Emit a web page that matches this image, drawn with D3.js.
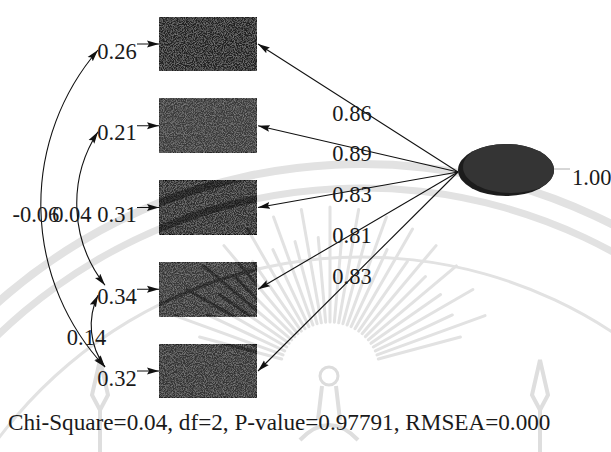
<!DOCTYPE html>
<html>
<head>
<meta charset="utf-8">
<script src="https://cdn.jsdelivr.net/npm/d3@7"></script>
<style>
  html, body { margin: 0; padding: 0; background: #fff; }
  svg { display: block; }
  text { font-family: "Liberation Serif", "Times New Roman", serif; fill: #1a1a1a; }
</style>
</head>
<body>
<div id="diagram"></div>
<script>
// CFA path diagram (one factor, five indicators)

const indicatorIds = ["x1", "x2", "x3", "x4", "x5"]
const loadings = [0.86, 0.89, 0.83, 0.81, 0.83]
const errorVariances = [0.26, 0.21, 0.31, 0.34, 0.32]
const covFrom = [0, 1, 3]
const covTo = [4, 3, 4]
const covValues = [-0.06, 0.04, 0.14]
const latentVariance = 1.0
const fitLabels = ["Chi-Square", "df", "P-value", "RMSEA"]
const fitValues = ["0.04", "2", "0.97791", "0.000"]

const width = 611
const height = 452

// layout
const box = { x: 159, w: 98, h: 54 }
const latent = { cx: 506, cy: 170, rx: 48, ry: 26 }
const boxFill = ["#242424", "#3a3a3a", "#2f2f2f", "#393939", "#343434"]
const labelSize = 22.5

const fmt = (v) => v.toFixed(2)

const y = d3.scalePoint().domain(indicatorIds).range([44, 371])

const svg = d3
  .select("#diagram")
  .append("svg")
  .attr("width", width)
  .attr("height", height)
  .attr("viewBox", `0 0 ${width} ${height}`)

const defs = svg.append("defs")

defs
  .append("marker")
  .attr("id", "arrow")
  .attr("markerUnits", "userSpaceOnUse")
  .attr("markerWidth", 13)
  .attr("markerHeight", 8)
  .attr("refX", 12)
  .attr("refY", 4)
  .attr("orient", "auto-start-reverse")
  .append("path")
  .attr("d", "M0,0.6 L12,4 L0,7.4 L2,4 Z")
  .attr("fill", "#111")

// fine grain for the boxes
const grain = defs.append("filter").attr("id", "grain").attr("x", 0).attr("y", 0).attr("width", 1).attr("height", 1)
grain.append("feTurbulence").attr("type", "fractalNoise").attr("baseFrequency", 1.1).attr("numOctaves", 1).attr("seed", 3).attr("result", "noise")
grain
  .append("feColorMatrix")
  .attr("in", "noise")
  .attr("type", "matrix")
  .attr("values", "0 0 0 0 0.45  0 0 0 0 0.45  0 0 0 0 0.45  0 0 0 1.1 -0.45")
  .attr("result", "speck")
grain.append("feComposite").attr("in", "speck").attr("in2", "SourceGraphic").attr("operator", "in").attr("result", "inside")
const merge = grain.append("feMerge")
merge.append("feMergeNode").attr("in", "SourceGraphic")
merge.append("feMergeNode").attr("in", "inside")

defs
  .append("clipPath")
  .attr("id", "clip-boxes")
  .selectAll("rect")
  .data(indicatorIds)
  .join("rect")
  .attr("x", box.x)
  .attr("y", (d) => y(d) - box.h / 2)
  .attr("width", box.w)
  .attr("height", box.h)

defs
  .append("clipPath")
  .attr("id", "clip-latent")
  .append("ellipse")
  .attr("cx", latent.cx)
  .attr("cy", latent.cy)
  .attr("rx", latent.rx)
  .attr("ry", latent.ry)

// faint watermark emblem in the background
const rad = (a) => (a * Math.PI) / 180
function drawWatermark(g, color) {
  const arcs = [
    { r: 548, w: 8 },
    { r: 524, w: 7 },
    { r: 455, w: 3 },
  ]
  g.selectAll(".wm-arc")
    .data(arcs)
    .join("path")
    .attr("class", "wm-arc")
    .attr("transform", "translate(362,712)")
    .attr("d", (d) => d3.arc().innerRadius(d.r - d.w / 2).outerRadius(d.r + d.w / 2).startAngle(-1.35).endAngle(1.25)())
    .attr("fill", color)

  const rays = d3.range(-75, 76, 5)
  g.selectAll(".wm-ray")
    .data(rays)
    .join("line")
    .attr("class", "wm-ray")
    .attr("x1", (a) => 330 + 50 * Math.sin(rad(a)))
    .attr("y1", (a) => 372 - 50 * Math.cos(rad(a)))
    .attr("x2", (a) => 330 + (a % 10 === 0 ? 165 : 135) * Math.sin(rad(a)))
    .attr("y2", (a) => 372 - (a % 10 === 0 ? 165 : 135) * Math.cos(rad(a)))
    .attr("stroke", color)
    .attr("stroke-width", 3)
    .attr("stroke-linecap", "round")
}

const wm = svg.append("g").attr("class", "watermark")
drawWatermark(wm, "#e2e2e2")
wm.append("circle").attr("cx", 329).attr("cy", 376).attr("r", 9).attr("fill", "none").attr("stroke", "#dcdcdc").attr("stroke-width", 3)
wm.append("path")
  .attr("d", "M322,386 L318,420 M336,386 L340,420 M300,440 Q329,410 358,440 M100,452 L100,410 L92,395 L100,360 L108,395 L100,410 M540,452 L540,410 L532,395 L540,360 L548,395 L540,410")
  .attr("fill", "none")
  .attr("stroke", "#dedede")
  .attr("stroke-width", 4)

// indicator boxes
svg
  .append("g")
  .selectAll("rect")
  .data(indicatorIds)
  .join("rect")
  .attr("x", box.x)
  .attr("y", (d) => y(d) - box.h / 2)
  .attr("width", box.w)
  .attr("height", box.h)
  .attr("fill", (d, i) => boxFill[i])
  .attr("stroke", "#111")
  .attr("stroke-width", 1)
  .attr("filter", "url(#grain)")

// watermark darkens where it crosses the boxes
const wmDark = svg.append("g").attr("clip-path", "url(#clip-boxes)").attr("opacity", 0.45)
drawWatermark(wmDark, "#0c0c0c")

// latent factor
svg
  .append("ellipse")
  .attr("cx", latent.cx)
  .attr("cy", latent.cy)
  .attr("rx", latent.rx)
  .attr("ry", latent.ry)
  .attr("fill", "#1c1c1c")
svg
  .append("ellipse")
  .attr("clip-path", "url(#clip-latent)")
  .attr("cx", latent.cx + 5)
  .attr("cy", latent.cy - 3)
  .attr("rx", latent.rx)
  .attr("ry", latent.ry)
  .attr("fill", "#343434")

svg
  .append("line")
  .attr("x1", latent.cx + latent.rx)
  .attr("y1", latent.cy - 1)
  .attr("x2", latent.cx + latent.rx + 16)
  .attr("y2", latent.cy - 1)
  .attr("stroke", "#999")
  .attr("stroke-width", 0.8)

svg
  .append("text")
  .attr("x", latent.cx + latent.rx + 18)
  .attr("y", latent.cy + 14.5)
  .attr("font-size", labelSize)
  .text(fmt(latentVariance))

// loadings: factor -> indicator
const fan = { x: latent.cx - latent.rx, y: latent.cy + 2 }
const labelX = 352

const loadG = svg.append("g").attr("class", "loadings")
loadG
  .selectAll("line")
  .data(indicatorIds)
  .join("line")
  .attr("x1", fan.x)
  .attr("y1", fan.y)
  .attr("x2", box.x + box.w + 1)
  .attr("y2", (d) => y(d))
  .attr("stroke", "#111")
  .attr("stroke-width", 1.1)
  .attr("marker-end", "url(#arrow)")

loadG
  .selectAll("text")
  .data(indicatorIds)
  .join("text")
  .attr("text-anchor", "middle")
  .attr("font-size", labelSize)
  .attr("x", labelX)
  .attr("y", (d) => {
    const x2 = box.x + box.w + 1
    const s = (y(d) - fan.y) / (x2 - fan.x)
    const yl = fan.y + s * (labelX - fan.x)
    return yl + 5 + 6 * s + 7.5
  })
  .text((d, i) => fmt(loadings[i]))

// error variances
const errG = svg.append("g").attr("class", "errors")
errG
  .selectAll("line")
  .data(indicatorIds)
  .join("line")
  .attr("x1", 137)
  .attr("y1", (d) => y(d))
  .attr("x2", box.x)
  .attr("y2", (d) => y(d))
  .attr("stroke", "#111")
  .attr("stroke-width", 1)
  .attr("marker-end", "url(#arrow)")

errG
  .selectAll("text")
  .data(indicatorIds)
  .join("text")
  .attr("text-anchor", "middle")
  .attr("font-size", labelSize)
  .attr("x", 117)
  .attr("y", (d) => y(d) + 7 + 7.5)
  .text((d, i) => fmt(errorVariances[i]))

// error covariances as circular arcs on the left
const covs = covValues.map((v, i) => {
  const a = indicatorIds[covFrom[i]]
  const b = indicatorIds[covTo[i]]
  const p0 = [98, y(a) + 6]
  const p1 = [105, y(b) - 4]
  const span = covTo[i] - covFrom[i]
  const sag = 10 * Math.pow(span, 1.3)
  const chord = Math.hypot(p1[0] - p0[0], p1[1] - p0[1])
  const r = (chord * chord) / 4 / (2 * sag) + sag / 2
  return { v, p0, p1, sag, r, mid: [(p0[0] + p1[0]) / 2, (p0[1] + p1[1]) / 2] }
})

const covG = svg.append("g").attr("class", "covariances")
covG
  .selectAll("path")
  .data(covs)
  .join("path")
  .attr("d", (d) => `M${d.p0[0]},${d.p0[1]} A${d.r},${d.r} 0 0 0 ${d.p1[0]},${d.p1[1]}`)
  .attr("fill", "none")
  .attr("stroke", "#111")
  .attr("stroke-width", 1.1)
  .attr("marker-start", "url(#arrow)")
  .attr("marker-end", "url(#arrow)")

covG
  .selectAll("text")
  .data(covs)
  .join("text")
  .attr("text-anchor", "middle")
  .attr("font-size", labelSize)
  .attr("x", (d) => d.mid[0] - d.sag - 5)
  .attr("y", (d) => d.mid[1] + 6 + 7.5)
  .text((d) => fmt(d.v))

// fit statistics
svg
  .append("text")
  .attr("x", 8)
  .attr("y", 430)
  .attr("font-size", 23.2)
  .text(fitLabels.map((l, i) => `${l}=${fitValues[i]}`).join(", "))
</script>
</body>
</html>
